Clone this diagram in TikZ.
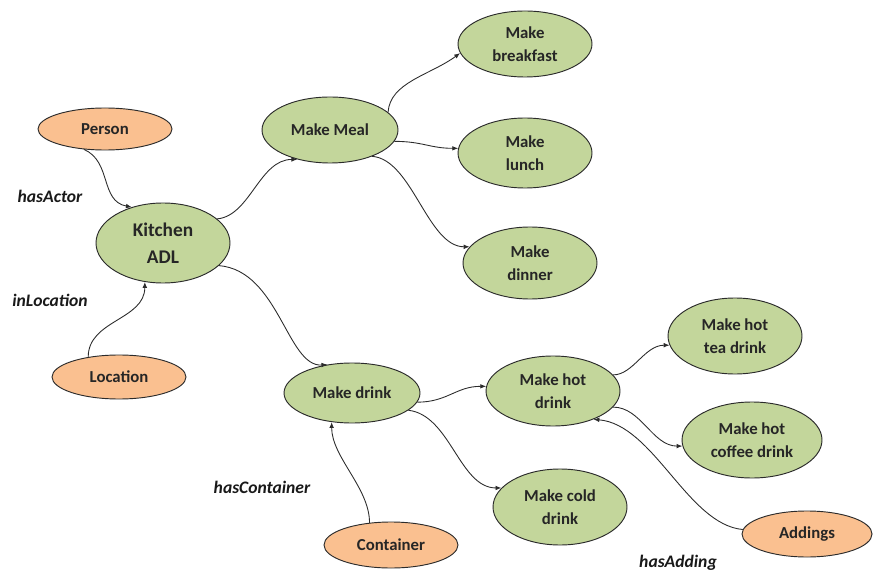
\documentclass[tikz,border=0pt]{standalone}
\usepackage{fontspec}
\setmainfont{Carlito}
\usetikzlibrary{shapes.geometric,arrows.meta}
\definecolor{gfill}{HTML}{C3D69B}
\definecolor{ofill}{HTML}{FAC090}
\definecolor{edgec}{HTML}{2B2B2B}
\tikzset{
 ell/.style 2 args={ellipse, draw=edgec, line width=0.8pt, inner sep=0pt,
   minimum width=#1*0.06cm, minimum height=#2*0.06cm, align=center,
   font=\fontsize{14.3}{19.6}\selectfont\bfseries, text=black!85},
 gnode/.style={fill=gfill},
 onode/.style={fill=ofill},
 conn/.style={draw=edgec, line width=0.75pt, -{Latex[length=5pt,width=4pt]}},
 lbl/.style={font=\fontsize{15}{17}\selectfont\bfseries\itshape, text=black!90}
}
\begin{document}
\begin{tikzpicture}[x=0.03cm,y=0.03cm]
\useasboundingbox (0,0) rectangle (875,-571);
\node[ell={67}{21},onode] (person) at (105,-129) {Person};
\node[ell={67}{40},gnode,font=\fontsize{16.5}{23}\selectfont\bfseries] (kitchen) at (163,-243) {Kitchen\\ADL};
\node[ell={67}{22},onode] (location) at (119,-377) {Location};
\node[ell={68}{33},gnode] (meal) at (330,-130) {Make Meal};
\node[ell={67}{33},gnode] (breakfast) at (525,-44) {Make\\breakfast};
\node[ell={67}{35},gnode] (lunch) at (525,-153) {Make\\lunch};
\node[ell={67}{36},gnode] (dinner) at (530,-263) {Make\\dinner};
\node[ell={68}{30},gnode] (drink) at (352,-393) {Make drink};
\node[ell={67}{35},gnode] (hot) at (553,-391) {Make hot\\drink};
\node[ell={67}{38},gnode] (cold) at (560,-507) {Make cold\\drink};
\node[ell={67}{23},onode] (container) at (391,-545) {Container};
\node[ell={67}{38},gnode] (tea) at (735,-336) {Make hot\\tea drink};
\node[ell={70}{38},gnode] (coffee) at (752,-440) {Make hot\\coffee drink};
\node[ell={65}{23},onode] (addings) at (807,-534) {Addings};

\draw[conn] (person.-136) .. controls +(28,-12) and +(-32,6) .. (kitchen.131);
\draw[conn] (location.147) .. controls +(0,37) and +(0,-38) .. (kitchen.-115);
\draw[conn] (kitchen.24) .. controls +(33,3) and +(-38,0) .. (meal.-138);
\draw[conn] (meal.17) .. controls +(2,30) and +(-30,-22) .. (breakfast.-172);
\draw[conn] (meal.-10) .. controls +(28,0) and +(-28,0) .. (lunch.176);
\draw[conn] (meal.-32) .. controls +(40,-3) and +(-42,0) .. (dinner.165);
\draw[conn] (kitchen.-22) .. controls +(60,-5) and +(-40,-3) .. (drink.131);
\draw[conn] (container.134) .. controls +(0,35) and +(0,-35) .. (drink.-125);
\draw[conn] (drink.-8) .. controls +(30,0) and +(-30,0) .. (hot.176);
\draw[conn] (drink.-17) .. controls +(42,-5) and +(-42,0) .. (cold.162);
\draw[conn] (hot.15) .. controls +(20,0) and +(-25,0) .. (tea.-172);
\draw[conn] (hot.-15) .. controls +(28,0) and +(-30,0) .. (coffee.-175);
\draw[conn] (addings.176) .. controls +(-55,5) and +(60,-5) .. (hot.-35);

\node[lbl] (lActor) at (50,-196) {hasActor};
\node[lbl] (lLoc) at (50,-300) {inLocation};
\node[lbl] (lCont) at (262,-487) {hasContainer};
\node[lbl] (lAdd) at (678,-563) {hasAdding};
\end{tikzpicture}
\end{document}
